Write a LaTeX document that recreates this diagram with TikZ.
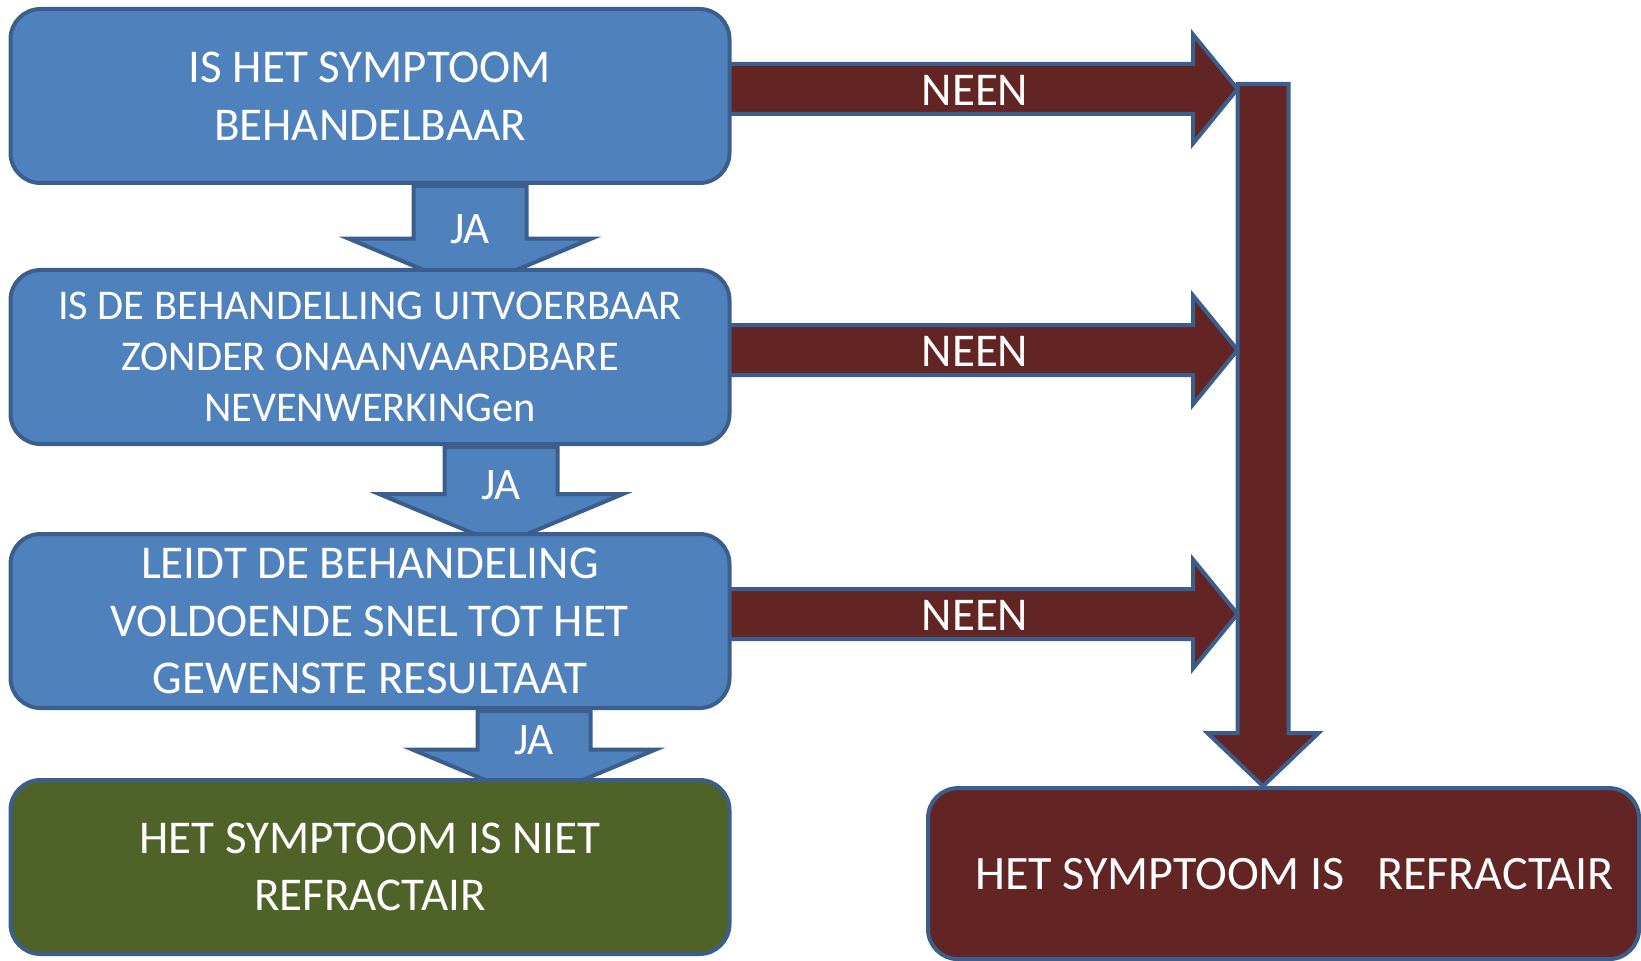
\documentclass[tikz,border=0pt]{standalone}
\usepackage{fontspec}
\setmainfont{Carlito}
\usetikzlibrary{positioning,backgrounds,calc}
\definecolor{boxblue}{HTML}{4F81BD}
\definecolor{edgeblue}{HTML}{3B5E8C}
\definecolor{darkred}{HTML}{632523}
\definecolor{darkgreen}{HTML}{4F6228}

\begin{document}
\begin{tikzpicture}[x=1pt,y=1pt,
  box/.style={draw=edgeblue,line width=2pt,rounded corners=15pt,minimum width=359.5pt,minimum height=87pt,
    inner sep=0pt,outer sep=0pt,align=center,text=white,font=\fontsize{23.5}{28.8}\selectfont},
  jaarrow/.style={fill=boxblue,draw=edgeblue,line width=2pt},
  neenarrow/.style={fill=darkred,draw=edgeblue,line width=2pt},
  lbl/.style={text=white,inner sep=0pt,font=\fontsize{23.5}{28.8}\selectfont}]
\useasboundingbox (0,0) rectangle (820.5,480);

% vragen
\node[box,fill=boxblue] (q1) at (185,432) {IS HET SYMPTOOM\\BEHANDELBAAR};
\node[box,fill=boxblue,below=43.5pt of q1,font=\fontsize{21.2}{25.6}\selectfont] (q2) {IS DE BEHANDELLING UITVOERBAAR\\ZONDER ONAANVAARDBARE\\NEVENWERKINGen};
\node[box,fill=boxblue,below=45pt of q2] (q3) {LEIDT DE BEHANDELING\\VOLDOENDE SNEL TOT HET\\GEWENSTE RESULTAAT};
% uitkomsten
\node[box,fill=darkgreen,below=36pt of q3] (niet) {HET SYMPTOOM IS NIET\\REFRACTAIR};
\node[box,fill=darkred,minimum width=355.5pt,minimum height=85.5pt,font=\fontsize{24}{29}\selectfont] (refr) at (641.75,43.2)
  {\hspace*{11pt}HET SYMPTOOM IS\ \ \ REFRACTAIR};
\coordinate (merge) at (631.5,438);

\begin{scope}[on background layer]
% JA pijlen
\foreach \cx/\qa/\qb/\hb in {235/q1/q2/15.7,250.5/q2/q3/19.9,267/q3/niet/15.2}
  \draw[jaarrow] let \p1=(\qa.south), \p2=(\qb.north) in
    (\cx pt-28.25pt,\y1-1.5pt) -- (\cx pt-28.25pt,\y2+\hb pt) -- (\cx pt-60.7pt,\y2+\hb pt)
    -- (\cx pt,\y2+\hb pt-25.4pt) -- (\cx pt+60.7pt,\y2+\hb pt) -- (\cx pt+28.25pt,\y2+\hb pt)
    -- (\cx pt+28.25pt,\y1-1.5pt) -- cycle
    (\cx pt,\y2+\hb pt+4.7pt) node[lbl,font=\fontsize{22.5}{27}\selectfont]{JA};
% NEEN pijlen
\foreach \q in {q1,q2,q3}
  \draw[neenarrow] let \p1=(\q.east), \p2=(merge) in
    (\x1-2pt,\y1+16pt) -- (596.5pt,\y1+16pt) -- (596.5pt,\y1+30.75pt)
    -- (\x2-12.75pt,\y1+3.5pt) -- (596.5pt,\y1-23.75pt) -- (596.5pt,\y1-9pt)
    -- (\x1-2pt,\y1-9pt) -- cycle
    (487.5pt,\y1+3pt) node[lbl]{NEEN};
% verzamelpijl
\draw[neenarrow] let \p1=(merge), \p2=(refr.north) in
  (\x1-12.75pt,\y1) -- (\x1-12.75pt,\y2+27.5pt) -- (\x1-27.75pt,\y2+27.5pt)
  -- (\x1,\y2+1pt) -- (\x1+27.75pt,\y2+27.5pt) -- (\x1+12.75pt,\y2+27.5pt)
  -- (\x1+12.75pt,\y1) -- cycle;
\end{scope}

\end{tikzpicture}
\end{document}
